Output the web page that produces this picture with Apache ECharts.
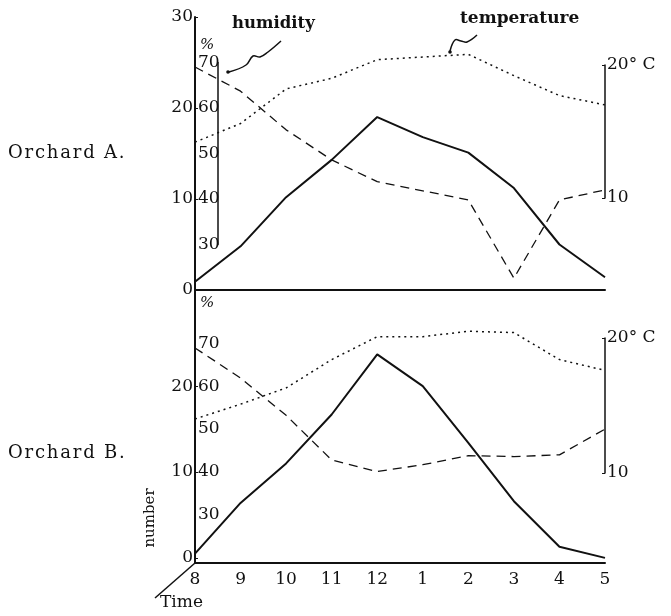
<!DOCTYPE html>
<html><head><meta charset="utf-8">
<script src="https://cdn.jsdelivr.net/npm/echarts@6/dist/echarts.min.js"></script>
<style>html,body{margin:0;padding:0;background:#fff}#c{width:671px;height:616px}</style>
</head><body><div id="c"></div>
<script>
const times = ['8','9','10','11','12','1','2','3','4','5'];
const numberA = [0.9, 4.8, 10.2, 14.3, 19.0, 16.8, 15.1, 11.2, 5.0, 1.4];
const humidityA = [69, 63.7, 55.2, 48.6, 43.8, 41.8, 39.8, 22.6, 39.8, 42];
const temperatureA = [14.2, 15.6, 18.2, 19.0, 20.4, 20.6, 20.8, 19.2, 17.7, 17.0];
const numberB = [0.5, 6.4, 11, 16.7, 23.7, 20, 13.4, 6.6, 1.3, 0];
const humidityB = [68.9, 61.9, 53.2, 42.8, 40.1, 41.7, 43.8, 43.6, 44, 50];
const temperatureB = [14.0, 15.1, 16.3, 18.4, 20.1, 20.1, 20.5, 20.4, 18.4, 17.6];
const numberTicksA = [0, 10, 20, 30];
const numberTicksB = [0, 10, 20];
const humidityTicks = [30, 40, 50, 60, 70];
const temperatureTicks = [10, 20];

const FONT = 'DejaVu Serif';
const BLACK = '#111';
const chart = echarts.init(document.getElementById('c'), null, {renderer: 'canvas'});

const L = 195, R = 66;
const hidX = (gi) => ({type: 'category', gridIndex: gi, data: times, boundaryGap: false, show: false});
const lbl = (extra) => Object.assign({color: BLACK, fontFamily: FONT, fontSize: 16}, extra || {});
const spaced = (s) => s.split('').join('\u200A');

chart.setOption({
  animation: false,
  backgroundColor: '#fff',
  grid: [
    {left: L, right: R, top: 17, height: 273},
    {left: L, right: R, top: 65, height: 133},
    {left: L, right: R, top: 290, height: 273},
    {left: L, right: R, top: 338, height: 135},
    {left: 218, width: 1, top: 62.5, height: 182}
  ],
  xAxis: [
    {type: 'category', gridIndex: 0, data: times, boundaryGap: false,
     axisLine: {show: true, onZero: false, lineStyle: {color: BLACK, width: 2}}, axisTick: {show: false}, axisLabel: {show: false}},
    hidX(1),
    {type: 'category', gridIndex: 2, data: times, boundaryGap: false,
     axisLine: {show: true, onZero: false, lineStyle: {color: BLACK, width: 2}}, axisTick: {show: false},
     axisLabel: lbl({fontSize: 17, margin: 8})},
    hidX(3),
    {type: 'value', gridIndex: 4, min: 0, max: 1, show: false}
  ],
  yAxis: [
    {type: 'value', gridIndex: 0, min: 0, max: 30, splitLine: {show: false},
     axisLine: {show: true, onZero: false, lineStyle: {color: BLACK, width: 2}},
     axisTick: {show: true, inside: true, length: 3, customValues: numberTicksA, lineStyle: {color: BLACK}},
     axisLabel: lbl({fontSize: 17, margin: 2, customValues: numberTicksA})},
    {type: 'value', gridIndex: 0, min: 20, max: 80, position: 'left', splitLine: {show: false},
     axisLine: {show: false}, axisTick: {show: false},
     axisLabel: lbl({fontSize: 17, inside: true, margin: 3, customValues: humidityTicks})},
    {type: 'value', gridIndex: 1, min: 10, max: 20, position: 'right', splitLine: {show: false},
     axisLine: {show: true, lineStyle: {color: BLACK, width: 1.5}},
     axisTick: {show: true, inside: true, length: 3, customValues: temperatureTicks, lineStyle: {color: BLACK}},
     axisLabel: lbl({fontSize: 17, margin: 2, customValues: temperatureTicks,
       formatter: v => v === 20 ? '20° C' : String(v)})},
    {type: 'value', gridIndex: 2, min: -0.6, max: 31.2, splitLine: {show: false},
     axisLine: {show: true, onZero: false, lineStyle: {color: BLACK, width: 2}},
     axisTick: {show: true, inside: true, length: 3, customValues: numberTicksB, lineStyle: {color: BLACK}},
     axisLabel: lbl({fontSize: 17, margin: 2, customValues: numberTicksB})},
    {type: 'value', gridIndex: 2, min: 18.8, max: 82.4, position: 'left', splitLine: {show: false},
     axisLine: {show: false}, axisTick: {show: false},
     axisLabel: lbl({fontSize: 17, inside: true, margin: 3, customValues: humidityTicks})},
    {type: 'value', gridIndex: 3, min: 10, max: 20, position: 'right', splitLine: {show: false},
     axisLine: {show: true, lineStyle: {color: BLACK, width: 1.5}},
     axisTick: {show: true, inside: true, length: 3, customValues: temperatureTicks, lineStyle: {color: BLACK}},
     axisLabel: lbl({fontSize: 17, margin: 2, customValues: temperatureTicks,
       formatter: v => v === 20 ? '20° C' : String(v)})},
    {type: 'value', gridIndex: 4, min: 30, max: 70, position: 'right', splitLine: {show: false},
     axisLine: {show: true, lineStyle: {color: BLACK, width: 1.5}}, axisTick: {show: false}, axisLabel: {show: false}}
  ],
  series: [
    {name: 'number A', type: 'line', xAxisIndex: 0, yAxisIndex: 0, data: numberA, symbol: 'none', clip: false,
     lineStyle: {color: BLACK, width: 2}},
    {name: 'humidity A', type: 'line', xAxisIndex: 0, yAxisIndex: 1, data: humidityA, symbol: 'none', clip: false,
     lineStyle: {color: BLACK, width: 1.3, type: [9, 6]}},
    {name: 'temperature A', type: 'line', xAxisIndex: 1, yAxisIndex: 2, data: temperatureA, symbol: 'none', clip: false,
     lineStyle: {color: BLACK, width: 1.5, type: [2, 4]}},
    {name: 'number B', type: 'line', xAxisIndex: 2, yAxisIndex: 3, data: numberB, symbol: 'none', clip: false,
     lineStyle: {color: BLACK, width: 2}},
    {name: 'humidity B', type: 'line', xAxisIndex: 2, yAxisIndex: 4, data: humidityB, symbol: 'none', clip: false,
     lineStyle: {color: BLACK, width: 1.3, type: [9, 6]}},
    {name: 'temperature B', type: 'line', xAxisIndex: 3, yAxisIndex: 5, data: temperatureB, symbol: 'none', clip: false,
     lineStyle: {color: BLACK, width: 1.5, type: [2, 4]}}
  ],
  graphic: [
    {type: 'text', left: 8, top: 144, style: {text: spaced('Orchard A.'), font: '18px "DejaVu Serif"', fill: BLACK}},
    {type: 'text', left: 8, top: 444, style: {text: spaced('Orchard B.'), font: '18px "DejaVu Serif"', fill: BLACK}},
    {type: 'text', left: 232, top: 15, style: {text: 'humidity', font: 'bold 16.5px "DejaVu Serif"', fill: BLACK}},
    {type: 'text', left: 460, top: 10, style: {text: 'temperature', font: 'bold 17px "DejaVu Serif"', fill: BLACK}},
    {type: 'text', left: 200, top: 38, style: {text: '%', font: 'italic 15px "DejaVu Serif"', fill: BLACK}},
    {type: 'text', left: 200, top: 296, style: {text: '%', font: 'italic 15px "DejaVu Serif"', fill: BLACK}},
    {type: 'text', left: 160, top: 594, style: {text: 'Time', font: '17px "DejaVu Serif"', fill: BLACK}},
    {type: 'text', x: 150, y: 518, rotation: Math.PI / 2,
     style: {text: 'number', font: '15px "DejaVu Serif"', fill: BLACK, align: 'center', verticalAlign: 'middle'}},
    {type: 'line', shape: {x1: 155, y1: 598, x2: 195, y2: 563}, style: {stroke: BLACK, lineWidth: 1.5}},
    {type: 'polyline', shape: {points: [[281, 41], [268, 52], [260, 57], [253, 56], [246, 65], [229, 72]], smooth: 0.4},
     style: {stroke: BLACK, lineWidth: 1.5, fill: null}},
    {type: 'circle', shape: {cx: 228, cy: 72, r: 1.8}, style: {fill: BLACK}},
    {type: 'polyline', shape: {points: [[477, 35], [467, 42], [461, 41], [455, 40], [450, 51]], smooth: 0.4},
     style: {stroke: BLACK, lineWidth: 1.5, fill: null}},
    {type: 'circle', shape: {cx: 450, cy: 52, r: 1.8}, style: {fill: BLACK}}
  ]
});
</script></body></html>
